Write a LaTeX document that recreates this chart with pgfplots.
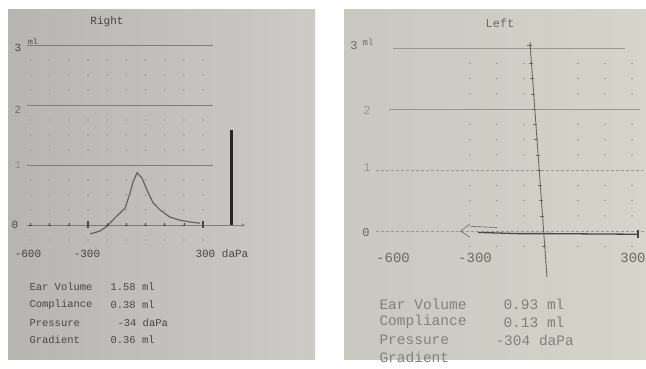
\documentclass[border=0pt]{standalone}
\usepackage{pgfplots}
\pgfplotsset{compat=1.18}
\usepackage{fontspec}
\setmainfont{Liberation Sans}
\newfontfamily\mono{Liberation Mono}
\definecolor{panelL}{RGB}{182,181,178}
\definecolor{panelA}{RGB}{204,203,199}
\definecolor{panelB}{RGB}{200,199,192}
\definecolor{panelC}{RGB}{214,213,203}
\definecolor{ink}{RGB}{70,70,70}
\definecolor{inkR}{RGB}{105,105,100}
\definecolor{gridc}{RGB}{125,125,122}
\definecolor{dotc}{RGB}{150,150,146}
\begin{document}
\begin{tikzpicture}
\begin{scope}[x=1pt,y=1pt]
\fill[white] (0,0) rectangle (646,369);
\shade[left color=panelL, right color=panelA] (8,9) rectangle (315,359);
\shade[left color=panelB, right color=panelC] (344,9) rectangle (646,359);
\end{scope}

% ---------------- Right ear (left panel) ----------------
\begin{axis}[at={(7.5pt,96pt)}, anchor=south west, scale only axis,
  width=237.7pt, height=258pt, xmin=-720, xmax=520, ymin=-0.8, ymax=3.5,
  axis lines=none, clip=false]
\addplot[gridc, line width=0.7pt] coordinates {(-620,3) (350,3)};
\addplot[gridc, line width=0.7pt] coordinates {(-620,2) (350,2)};
\addplot[gridc, line width=0.7pt] coordinates {(-620,1) (350,1)};
\addplot[gridc, line width=0.7pt, -stealth] coordinates {(-620,0) (520,0)};
\pgfplotsinvokeforeach{-600,-500,...,300}{
  \addplot[only marks, mark=*, mark size=0.5pt, color=dotc] coordinates
  {(#1,-0.25) (#1,0.25) (#1,0.5) (#1,0.75) (#1,1.25) (#1,1.5) (#1,1.75) (#1,2.25) (#1,2.5) (#1,2.75)};
}
\addplot[only marks, mark=+, mark size=1.5pt, color=ink] coordinates
  {(-600,0) (-500,0) (-400,0) (-200,0) (-100,0) (0,0) (100,0) (200,0)};
\addplot[only marks, mark=|, mark size=3.5pt, line width=1.6pt, color=ink] coordinates
  {(-300,0) (300,0)};
% tympanogram curve
\addplot[color=ink!85, line width=1.2pt] coordinates {
  (-290,-0.15) (-237,-0.10) (-201,-0.02) (-159,0.12) (-107,0.28) (-81,0.53)
  (-65,0.72) (-44,0.87) (-18,0.78) (8,0.58) (39,0.37) (76,0.25) (128,0.13)
  (180,0.08) (232,0.05) (284,0.03)};
% ear volume bar
\addplot[ycomb, line width=3pt, color=black!85] coordinates {(446,1.58)};
\end{axis}

% ---------------- Left ear (right panel) ----------------
\begin{axis}[at={(362pt,89pt)}, anchor=south west, scale only axis,
  width=283.5pt, height=262.3pt, xmin=-700, xmax=350, ymin=-0.8, ymax=3.5,
  axis lines=none, clip=false]
\addplot[gridc!80, line width=0.6pt] coordinates {(-585,3) (274,3)};
\addplot[gridc!80, line width=0.6pt] coordinates {(-600,2) (330,2)};
\addplot[gridc!80, line width=0.6pt, densely dashed] coordinates {(-650,1) (340,1)};
\addplot[gridc!80, line width=0.6pt, densely dashed] coordinates {(-650,0) (345,0)};
\pgfplotsinvokeforeach{-300,-200,-100,100,200,300}{
  \addplot[only marks, mark=*, mark size=0.5pt, color=dotc] coordinates
  {(#1,-0.25) (#1,0.25) (#1,0.5) (#1,0.75) (#1,1.25) (#1,1.5) (#1,1.75) (#1,2.25) (#1,2.5) (#1,2.75)};
}
% flat trace
\addplot[color=ink, line width=1.3pt] coordinates {(-270,-0.02) (-120,-0.04) (0,-0.04) (320,-0.05)};
\addplot[color=inkR, line width=0.6pt] coordinates {(-300,0.12) (-335,0.0) (-300,-0.1)};
\addplot[color=inkR, line width=0.6pt] coordinates {(-300,0.08) (-200,0.06)};
\addplot[only marks, mark=|, mark size=4pt, line width=1.8pt, color=ink] coordinates {(322,-0.05)};
% vertical line
\addplot[color=inkR, line width=0.9pt] coordinates {(-78,3.1) (-15,-0.75)};
\addplot[only marks, mark=-, mark size=2pt, color=inkR] coordinates
  {(-74,2.75) (-70,2.5) (-66,2.25) (-62,2) (-58,1.75) (-54,1.5) (-50,1.25) (-46,1) (-41,0.75) (-37,0.5) (-33,0.25) (-25,-0.25)};
\addplot[only marks, mark=+, mark size=2.5pt, color=inkR] coordinates {(-78,3.05)};
\end{axis}

\begin{scope}[x=1pt,y=1pt]
\node[font=\mono\fontsize{11}{11}\selectfont, text=ink] at (107,347) {Right};
\node[font=\mono\fontsize{11}{11}\selectfont, text=ink] at (18,321) {3};
\node[font=\mono\fontsize{8}{8}\selectfont, text=ink] at (33,327) {ml};
\node[font=\mono\fontsize{11}{11}\selectfont, text=ink!80] at (18,259) {2};
\node[font=\mono\fontsize{11}{11}\selectfont, text=ink!60] at (18,204) {1};
\node[font=\mono\fontsize{11}{11}\selectfont, text=ink] at (15,144) {0};
\node[font=\mono\fontsize{11}{11}\selectfont, text=ink] at (28,115) {-600};
\node[font=\mono\fontsize{11}{11}\selectfont, text=ink] at (87,115) {-300};
\node[font=\mono\fontsize{11}{11}\selectfont, text=ink, anchor=west] at (192,115) {300 daPa};
\begin{scope}[every node/.style={font=\mono\fontsize{10.5}{10.5}\selectfont, text=ink, anchor=west}]
\node at (26,82) {Ear Volume};
\node at (107,82) {1.58 ml};
\node at (26,64) {Compliance};
\node at (107,64) {0.38 ml};
\node at (26,46) {Pressure};
\node at (114,46) {-34 daPa};
\node at (26,29) {Gradient};
\node at (107,29) {0.36 ml};
\end{scope}

\node[font=\mono\fontsize{12}{12}\selectfont, text=inkR] at (500,346) {Left};
\node[font=\mono\fontsize{12}{12}\selectfont, text=inkR] at (354,323) {3};
\node[font=\mono\fontsize{9}{9}\selectfont, text=inkR] at (368,327) {ml};
\node[font=\mono\fontsize{12}{12}\selectfont, text=inkR!70] at (367,259) {2};
\node[font=\mono\fontsize{12}{12}\selectfont, text=inkR!70] at (367,201) {1};
\node[font=\mono\fontsize{12}{12}\selectfont, text=inkR] at (366,136) {0};
\node[font=\mono\fontsize{14}{14}\selectfont, text=inkR] at (393,111) {-600};
\node[font=\mono\fontsize{14}{14}\selectfont, text=inkR] at (475,111) {-300};
\node[font=\mono\fontsize{14}{14}\selectfont, text=inkR] at (633,111) {300};
\begin{scope}[every node/.style={font=\mono\fontsize{14.5}{14.5}\selectfont, text=inkR!85, anchor=west}]
\node at (376,65) {Ear Volume};
\node at (500,65) {0.93 ml};
\node at (376,47) {Compliance};
\node at (500,47) {0.13 ml};
\node at (376,29) {Pressure};
\node at (492,29) {-304 daPa};
\node at (376,12) {Gradient};
\end{scope}
\end{scope}
\pgfresetboundingbox
\useasboundingbox (0pt,0pt) rectangle (646pt,369pt);
\end{tikzpicture}
\end{document}
